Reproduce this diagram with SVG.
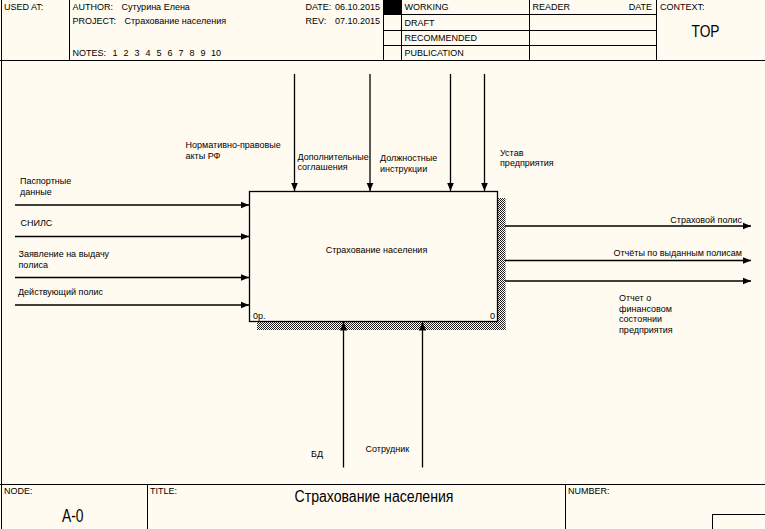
<svg xmlns="http://www.w3.org/2000/svg" width="765" height="529" viewBox="0 0 765 529">
<style>
text{font-family:"Liberation Sans",Arial,sans-serif;font-size:9px;fill:#000}
.frame{stroke:#000;stroke-width:1;fill:none;shape-rendering:crispEdges}
.conn{stroke:#000;stroke-width:1.3;fill:none}
.big{font-size:16px}
.node{font-size:18px}
</style>
<defs>
<marker id="arr" markerUnits="userSpaceOnUse" markerWidth="9" markerHeight="8" refX="8.5" refY="4" orient="auto">
<path d="M0,0.5 L8.5,4 L0,7.5 Z" fill="#000"/>
</marker>
<pattern id="hatch" width="2" height="2" patternUnits="userSpaceOnUse">
<rect x="0" y="0" width="1" height="1" fill="#222"/>
<rect x="1" y="1" width="1" height="1" fill="#222"/>
</pattern>
</defs>
<rect x="0" y="0" width="765" height="529" fill="#FFFBF0"/>
<g id="header">
<path class="frame" d="M1.5,0 V529 M0,60.5 H765 M69.5,0 V60.5 M383.5,0 V60.5 M401.5,0 V60.5 M529.5,0 V60.5 M656.5,0 V60.5 M383.5,14.5 H656.5 M383.5,30.5 H656.5 M383.5,45.5 H656.5"/>
<rect x="383.5" y="0" width="18" height="14.5" fill="#000"/>
<text x="4" y="9.5">USED AT:</text>
<text x="72.5" y="9.5">AUTHOR:</text>
<text x="121.5" y="9.5">Сутурина Елена</text>
<text x="72.5" y="23.5">PROJECT:</text>
<text x="124.5" y="23.5">Страхование населения</text>
<text x="72.5" y="55.5">NOTES:</text>
<text x="112.5" y="55.5">1</text><text x="123.5" y="55.5">2</text><text x="134.5" y="55.5">3</text><text x="145.5" y="55.5">4</text><text x="156.5" y="55.5">5</text><text x="167.5" y="55.5">6</text><text x="178.5" y="55.5">7</text><text x="189.5" y="55.5">8</text><text x="200.5" y="55.5">9</text><text x="211" y="55.5">10</text>
<text x="305.5" y="9.5">DATE:</text><text x="335" y="9.5">06.10.2015</text>
<text x="305.5" y="23.5">REV:</text><text x="335" y="23.5">07.10.2015</text>
<text x="404.5" y="9.5">WORKING</text>
<text x="404.5" y="25.5">DRAFT</text>
<text x="404.5" y="40.5">RECOMMENDED</text>
<text x="404.5" y="55.5">PUBLICATION</text>
<text x="532.5" y="9.5">READER</text>
<text x="652" y="9.5" text-anchor="end">DATE</text>
<text x="660" y="9.5">CONTEXT:</text>
<text class="big" x="691.5" y="37" textLength="28" lengthAdjust="spacingAndGlyphs">TOP</text>
</g>
<g id="footer">
<path class="frame" d="M0,484.5 H765 M147.5,484.5 V529 M565.5,484.5 V529 M712.5,529 V514.5 H765"/>
<text x="4" y="494">NODE:</text>
<text x="150" y="494">TITLE:</text>
<text x="568" y="494">NUMBER:</text>
<text class="node" x="62" y="522" textLength="21.5" lengthAdjust="spacingAndGlyphs">A-0</text>
<text class="big" x="294.5" y="502" textLength="159" lengthAdjust="spacingAndGlyphs">Страхование населения</text>
</g>
<g id="node-A0">
<rect x="497.5" y="198" width="8" height="132" fill="url(#hatch)"/>
<rect x="257" y="322" width="248.5" height="8" fill="url(#hatch)"/>
<rect x="249.5" y="191.5" width="248" height="130" fill="#FFFBF0" stroke="#000" stroke-width="1.3"/>
<text x="376.5" y="252.5" text-anchor="middle">Страхование населения</text>
<text x="253" y="318.5">0р.</text>
<text x="490" y="318.5">0</text>
</g>
<g id="connectors">
<line class="conn" x1="15" y1="205" x2="249" y2="205" marker-end="url(#arr)"/>
<line class="conn" x1="15" y1="236.5" x2="249" y2="236.5" marker-end="url(#arr)"/>
<line class="conn" x1="15" y1="277.5" x2="249" y2="277.5" marker-end="url(#arr)"/>
<line class="conn" x1="15" y1="305" x2="249" y2="305" marker-end="url(#arr)"/>
<line class="conn" x1="294.5" y1="74" x2="294.5" y2="191" marker-end="url(#arr)"/>
<line class="conn" x1="370" y1="74" x2="370" y2="191" marker-end="url(#arr)"/>
<line class="conn" x1="450.5" y1="74" x2="450.5" y2="191" marker-end="url(#arr)"/>
<line class="conn" x1="484.5" y1="74" x2="484.5" y2="191" marker-end="url(#arr)"/>
<line class="conn" x1="505" y1="226" x2="751" y2="226" marker-end="url(#arr)"/>
<line class="conn" x1="505" y1="260.5" x2="751" y2="260.5" marker-end="url(#arr)"/>
<line class="conn" x1="505" y1="281" x2="751" y2="281" marker-end="url(#arr)"/>
<line class="conn" x1="343.5" y1="467.5" x2="343.5" y2="322" marker-end="url(#arr)"/>
<line class="conn" x1="422.5" y1="467.5" x2="422.5" y2="322" marker-end="url(#arr)"/>
</g>
<g id="labels">
<text x="20" y="184">Паспортные</text>
<text x="20" y="194.5">данные</text>
<text x="20.5" y="225.5">СНИЛС</text>
<text x="18.5" y="257">Заявление на выдачу</text>
<text x="18.5" y="267.5">полиса</text>
<text x="18" y="294.5">Действующий полис</text>
<text x="185.5" y="147.5">Нормативно-правовые</text>
<text x="185.5" y="158.5">акты РФ</text>
<text x="297.5" y="159.5">Дополнительные</text>
<text x="297.5" y="170">соглашения</text>
<text x="380" y="161">Должностные</text>
<text x="380" y="171.5">инструкции</text>
<text x="500" y="155.5">Устав</text>
<text x="500" y="166">предприятия</text>
<text x="742" y="222.5" text-anchor="end">Страховой полис</text>
<text x="742" y="256" text-anchor="end">Отчёты по выданным полисам</text>
<text x="619" y="301">Отчет о</text>
<text x="619" y="311.7">финансовом</text>
<text x="619" y="322.4">состоянии</text>
<text x="619" y="333.3">предприятия</text>
<text x="311" y="456.5">БД</text>
<text x="365.5" y="451.5">Сотрудник</text>
</g>
</svg>
